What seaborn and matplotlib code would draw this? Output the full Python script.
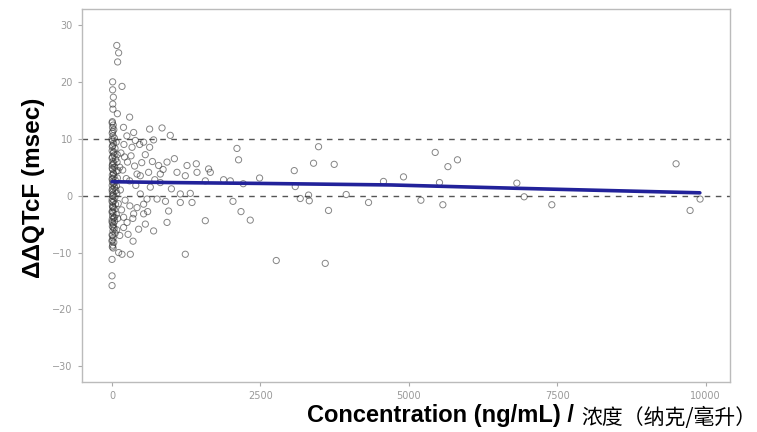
import numpy as np
import pandas as pd
import matplotlib
matplotlib.use("Agg")
import matplotlib.pyplot as plt
import seaborn as sns

# concentration (ng/mL) and ddQTcF (msec)
conc = [
    # dense column near zero
    80, 111, 94, 10, 10, 22, 12, 15, 90, 5, 20, 8, 30, 3, 15, 40, 6, 25, 12, 50,
    2, 18, 35, 8, 60, 14, 28, 4, 45, 10, 70, 20, 5, 33, 12, 55, 8, 25, 3, 40,
    15, 65, 6, 22, 10, 48, 3, 30, 14, 58, 7, 20, 38, 5, 16, 72, 9, 27, 2, 44,
    12, 24, 6, 36, 15, 52, 8, 20, 4, 30, 11, 18, 111, 168, 0, 0, 0,
    2, 12, 0, 4, 30, 1, 9, 3, 26, 1, 42, 2, 18, 0, 11, 1, 40, 0, 19, 1,
    0, 5, 80, 75, 90, 85, 95, 78, 100, 105, 88, 70,
    # spread out to ~2000
    193, 296, 364, 392, 532, 465, 633, 337, 168, 633, 842, 981, 785, 926, 1094,
    1263, 1419, 1626, 1431, 1234, 616, 813, 1150, 1318, 1150, 1347, 953, 926,
    700, 561, 448, 354, 1234, 308, 421, 476, 296, 476, 589, 758, 532, 421, 532,
    364, 195, 195, 253, 645, 813, 1571, 1992, 1571,
    150, 210, 260, 320, 180, 240, 380, 140, 220, 300, 160, 270, 350, 130, 400,
    500, 560, 680, 720, 600, 130, 200, 250, 700, 860, 900, 1000, 1050,
    # sparse high concentrations
    2104, 2131, 3478, 3394, 3742, 3069, 2485, 1655, 1879, 2210, 3086, 4572,
    4909, 2037, 2172, 2328, 3170, 3310, 3322, 3944, 4320, 3646, 2766, 3591,
    5443, 5818, 5657, 5515, 6818, 6941, 5202, 5572, 7407, 9500, 9904, 9736,
]
ddqtcf = [
    26.4, 25.1, 23.5, 20.0, 18.6, 17.3, 16.1, 15.2, 14.4, 13.0, 12.4, 12.0, 11.6, 11.0, 10.5, 10.1, 9.6, 9.2, 8.8, 8.3,
    7.9, 7.5, 7.1, 6.8, 6.4, 6.0, 5.7, 5.3, 5.0, 4.6, 4.3, 4.0, 3.6, 3.3, 3.0, 2.7, 2.4, 2.1, 1.8, 1.5,
    1.2, 0.9, 0.6, 0.3, 0.0, -0.3, -0.6, -0.9, -1.2, -1.5, -1.8, -2.1, -2.4, -2.7, -3.0, -3.3, -3.6, -3.9, -4.2, -4.5,
    -4.8, -5.1, -5.4, -5.8, -6.2, -6.6, -7.0, -7.4, -7.8, -8.2, -8.7, -9.2, -10.0, -10.3, -11.2, -14.1, -15.8,
    12.8, 11.3, 9.9, 8.6, 7.7, 6.6, 5.5, 4.8, 3.8, 2.9, 2.2, 1.0, -0.1, -1.0, -2.0, -2.9, -3.8, -4.6, -5.6, -6.9,
    -8.0, -9.0, 0.4, 1.7, 3.1, 5.9, -4.0, -6.0, 4.4, -1.4, 7.2, 9.4,
    12.0, 13.8, 11.1, 9.7, 9.4, 9.0, 8.5, 8.5, 19.2, 11.7, 11.9, 10.6, 5.3, 5.9, 4.1,
    5.3, 5.6, 4.7, 4.1, 3.5, 4.1, 3.8, 0.3, 0.4, -1.2, -1.2, -2.7, -4.7,
    -6.2, -5.0, -5.9, -8.0, -10.3, -10.3, 3.8, 3.5, 2.6, 0.3, -0.6, -0.6, -1.5, -2.1, -3.2,
    -3.2, -3.8, -5.6, -4.7, 1.5, 2.3, 2.6, 2.6, -4.4,
    7.5, 6.8, 5.9, 7.0, 4.5, 3.0, 5.2, 1.0, -0.8, -1.8, -2.5, -6.8, -4.0, -7.0, 1.8,
    5.8, 7.2, 6.0, 2.8, -2.8, 5.0, 9.0, 10.5, 9.8, 4.6, -1.0, 1.2, 6.5,
    8.3, 6.3, 8.6, 5.7, 5.5, 4.4, 3.1, 4.1, 2.8, 2.1, 1.6, 2.5,
    3.3, -1.0, -2.8, -4.3, -0.5, 0.1, -0.9, 0.2, -1.2, -2.6, -11.4, -11.9,
    7.6, 6.3, 5.1, 2.3, 2.2, -0.2, -0.8, -1.6, -1.6, 5.6, -0.6, -2.6,
]

# smooth trend
trend_conc = [0, 1000, 2500, 4700, 6800, 9900]
trend_ddqtcf = [2.45, 2.3, 2.15, 1.88, 1.3, 0.5]

ref_lines = [0, 10]
x_ticks = [0, 2500, 5000, 7500, 10000]
y_ticks = [-30, -20, -10, 0, 10, 20, 30]

df = pd.DataFrame({"conc": conc, "ddqtcf": ddqtcf})
trend = pd.DataFrame({"conc": trend_conc, "ddqtcf": trend_ddqtcf})

sns.set_theme(style="white")
fig = plt.figure(figsize=(7.57, 4.32), dpi=100)
ax = fig.add_axes([0.108, 0.1164, 0.856, 0.8627])

for yv in ref_lines:
    ax.axhline(yv, color="#555555", lw=1.0, ls=(0, (4, 4)), zorder=1)

sns.scatterplot(data=df, x="conc", y="ddqtcf", ax=ax, marker="o",
                facecolors="none", edgecolor="#333333", linewidth=0.7,
                s=20, alpha=0.6, zorder=2)
sns.lineplot(data=trend, x="conc", y="ddqtcf", ax=ax, color="#22229a",
             lw=2.6, zorder=3)

ax.set_xlim(-510, 10404)
ax.set_ylim(-32.7, 32.8)
ax.set_xticks(x_ticks)
ax.set_yticks(y_ticks)
ax.set_xlabel("")
ax.set_ylabel("")
ax.tick_params(axis="both", colors="#aaaaaa", labelsize=7, length=3, width=0.8,
               labelcolor="#999999", bottom=True, left=True)
for sp in ax.spines.values():
    sp.set_color("#bbbbbb")
    sp.set_linewidth(1.0)

fig.text(0.044, 0.565, "ΔΔQTcF (msec)", rotation=90, ha="center", va="center",
         fontsize=17.5, fontweight="bold", color="black",
         family=["Liberation Sans", "DejaVu Sans"])

cjk = fig.text(0.999, 0.006, "浓度（纳克/毫升）", ha="right", va="bottom",
               fontsize=15, color="black",
               family=["Noto Sans CJK SC", "DejaVu Sans"])
fig.canvas.draw()
ax.annotate("Concentration (ng/mL) / ", xy=(0, 0.1), xycoords=cjk,
            ha="right", va="bottom", fontsize=17, fontweight="bold",
            color="black", family=["Liberation Sans", "DejaVu Sans"],
            annotation_clip=False)

fig.savefig("out.png", dpi=100)
